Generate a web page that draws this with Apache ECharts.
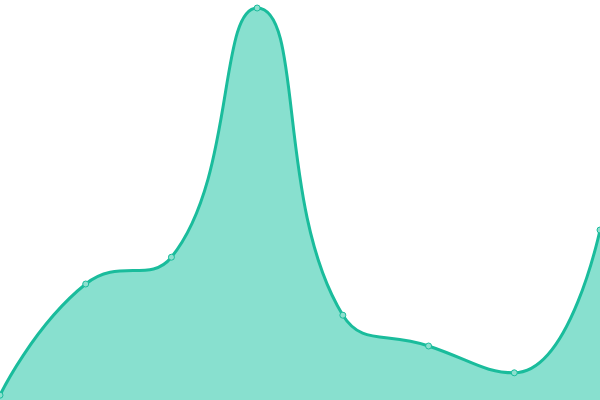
<!DOCTYPE html>
<html>
<head>
<meta charset="utf-8">
<script src="https://cdn.jsdelivr.net/npm/echarts@6/dist/echarts.min.js"></script>
<style>
html, body { margin: 0; padding: 0; background: #fff; }
#main { width: 600px; height: 400px; }
</style>
</head>
<body>
<div id="main"></div>
<script>
var categories = ['1', '2', '3', '4', '5', '6', '7', '8'];
var values = [1.2, 29, 35.7, 98, 21.2, 13.5, 6.8, 42.5];

var myChart = echarts.init(document.getElementById('main'));
var option = {
    animation: false,
    grid: { left: 0, right: 0, top: 0, bottom: 0 },
    xAxis: {
        type: 'category',
        boundaryGap: false,
        show: false,
        data: categories
    },
    yAxis: {
        type: 'value',
        show: false,
        min: 0,
        max: 100
    },
    series: [{
        type: 'line',
        smooth: true,
        data: values,
        symbol: 'circle',
        symbolSize: 6,
        lineStyle: { color: '#1abc9c', width: 3 },
        itemStyle: { color: '#8ee0cf', borderColor: '#1abc9c', borderWidth: 1 },
        areaStyle: { color: '#88e0cf', opacity: 1 }
    }]
};
myChart.setOption(option);
</script>
</body>
</html>
